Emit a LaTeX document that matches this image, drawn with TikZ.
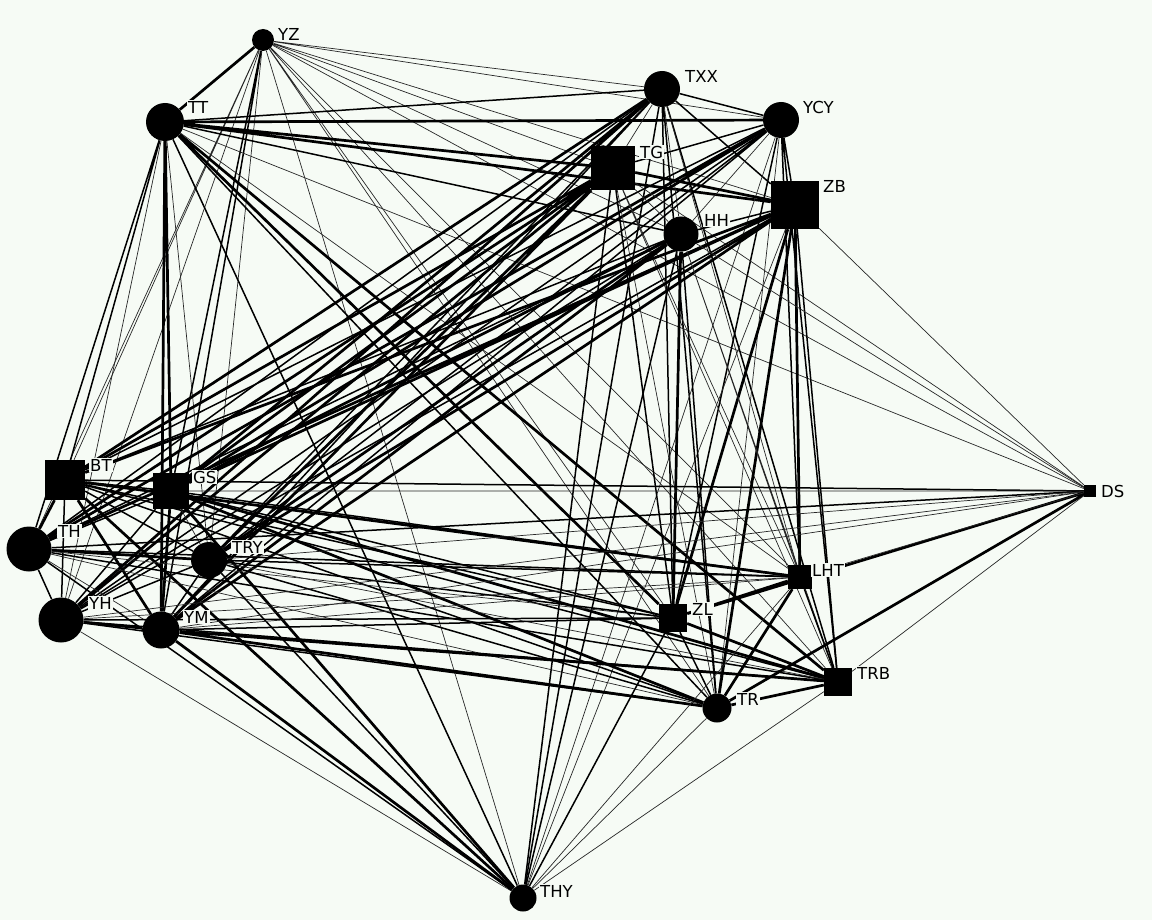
\documentclass[tikz,border=0pt]{standalone}
\usepackage{fontspec}
\setmainfont{DejaVu Sans}
\pgfdeclarelayer{back}
\pgfdeclarelayer{edges}
\pgfsetlayers{back,edges,main}
\definecolor{paper}{RGB}{246,251,245}
\tikzset{
  actor/.style={circle,fill=black,inner sep=0pt},
  group/.style={rectangle,fill=black,inner sep=0pt},
  lbl/.style={anchor=west,inner sep=1pt,fill=paper,font=\fontsize{16.5}{17}\selectfont,text=black},
  thn/.style={line width=0.7pt,black!85},
  med/.style={line width=1.5pt},
  thk/.style={line width=2.7pt},
}

\begin{document}
\begin{tikzpicture}[x=1pt,y=-1pt]
        \begin{pgfonlayer}{back}
          \fill [paper] (0,0) rectangle (1152,920);
        \end{pgfonlayer}
        \useasboundingbox (0,0) rectangle (1152,920);

        % actors
        \node [actor,minimum size=22pt] (YZ) at (263,40) {};
        \node [actor,minimum size=36pt] (TXX) at (662,89) {};
        \node [actor,minimum size=38pt] (TT) at (165,122) {};
        \node [actor,minimum size=36pt] (YCY) at (781,120) {};
        \node [group,minimum size=44pt] (TG) at (613,168) {};
        \node [group,minimum size=48pt] (ZB) at (795,205) {};
        \node [actor,minimum size=35pt] (HH) at (681,234) {};
        \node [group,minimum size=40pt] (BT) at (65,480) {};
        \node [group,minimum size=36pt] (GS) at (171,491) {};
        \node [group,minimum size=12pt] (DS) at (1090,491) {};
        \node [actor,minimum size=45pt] (TH) at (29,549) {};
        \node [actor,minimum size=36pt] (TRY) at (209,560) {};
        \node [group,minimum size=24pt] (LHT) at (800,577) {};
        \node [group,minimum size=28pt] (ZL) at (673,618) {};
        \node [actor,minimum size=45pt] (YH) at (61,620) {};
        \node [actor,minimum size=37pt] (YM) at (161,630) {};
        \node [group,minimum size=28pt] (TRB) at (838,682) {};
        \node [actor,minimum size=29pt] (TR) at (717,708) {};
        \node [actor,minimum size=27pt] (THY) at (523,898) {};

        % names
        \node [lbl] (YZ-l) at (277,34) {YZ};
        \node [lbl] (TXX-l) at (684,76) {TXX};
        \node [lbl] (TT-l) at (187,107) {TT};
        \node [lbl] (YCY-l) at (802,107) {YCY};
        \node [lbl] (TG-l) at (639,152) {TG};
        \node [lbl] (ZB-l) at (822,186) {ZB};
        \node [lbl] (HH-l) at (703,220) {HH};
        \node [lbl] (BT-l) at (89,465) {BT};
        \node [lbl] (GS-l) at (192,477) {GS};
        \node [lbl] (DS-l) at (1100,491) {DS};
        \node [lbl] (TH-l) at (57,531) {TH};
        \node [lbl] (TRY-l) at (231,547) {TRY};
        \node [lbl] (LHT-l) at (811,570) {LHT};
        \node [lbl] (ZL-l) at (691,609) {ZL};
        \node [lbl] (YH-l) at (88,603) {YH};
        \node [lbl] (YM-l) at (183,617) {YM};
        \node [lbl] (TRB-l) at (856,673) {TRB};
        \node [lbl] (TR-l) at (736,699) {TR};
        \node [lbl] (THY-l) at (539,891) {THY};

        \begin{pgfonlayer}{edges}
        % top row
        \draw [thk] (YZ) -- (TT);
        \draw [thn] (YZ) -- (TXX) (YZ) -- (YCY) (YZ) -- (TG) (YZ) -- (ZB) (YZ) -- (HH);
        \draw [thn] (YZ) -- (BT) (YZ) -- (TH) (YZ) -- (YH) (YZ) -- (TRY);
        \draw [med] (YZ) -- (GS) (YZ) -- (YM);
        \draw [thn] (YZ) -- (ZL) (YZ) -- (TR) (YZ) -- (TRB) (YZ) -- (LHT) (YZ) -- (DS) (YZ) -- (THY);

        \draw [thk] (TT) -- (YCY) (TT) -- (TG) (TT) -- (ZB) (TT) -- (GS) (TT) -- (YM) (TT) -- (ZL) (TT) -- (TRB);
        \draw [med] (TT) -- (TXX) (TT) -- (HH) (TT) -- (BT) (TT) -- (TH) (TT) -- (TR) (TT) -- (THY);
        \draw [thn] (TT) -- (YH) (TT) -- (TRY) (TT) -- (LHT) (TT) -- (DS);

        \draw [med] (TXX) -- (YCY) (TXX) -- (ZB) (TXX) -- (ZL) (TXX) -- (TR) (TXX) -- (TRB) (TXX) -- (THY);
        \draw [thn] (TXX) -- (TG) (TXX) -- (HH) (TXX) -- (LHT);
        \draw [thk] (TXX) -- (BT) (TXX) -- (GS) (TXX) -- (YH);
        \draw [med] (TXX) -- (TH) (TXX) -- (TRY) (TXX) -- (YM);

        \draw [med] (YCY) -- (ZB) (YCY) -- (TG) (YCY) -- (LHT) (YCY) -- (TRB) (YCY) -- (ZL);
        \draw [thn] (YCY) -- (HH) (YCY) -- (TR) (YCY) -- (THY);
        \draw [thk] (YCY) -- (TH) (YCY) -- (GS);
        \draw [med] (YCY) -- (BT) (YCY) -- (TRY) (YCY) -- (YH) (YCY) -- (YM);

        \draw [thk] (TG) -- (ZB) (TG) -- (BT) (TG) -- (GS) (TG) -- (TH) (TG) -- (TRY) (TG) -- (YH) (TG) -- (YM);
        \draw [thn] (TG) -- (HH) (TG) -- (TR) (TG) -- (LHT) (TG) -- (TRB) (TG) -- (DS);
        \draw [med] (TG) -- (ZL) (TG) -- (THY);

        \draw [med] (ZB) -- (HH) (ZB) -- (TRB) (ZB) -- (YH);
        \draw [thk] (ZB) -- (LHT) (ZB) -- (ZL) (ZB) -- (TR) (ZB) -- (BT) (ZB) -- (GS) (ZB) -- (TH) (ZB) -- (TRY) (ZB) -- (YM);
        \draw [thn] (ZB) -- (DS) (ZB) -- (THY);

        \draw [thk] (HH) -- (ZL) (HH) -- (GS) (HH) -- (TRY) (HH) -- (YM);
        \draw [med] (HH) -- (TR) (HH) -- (BT) (HH) -- (TH) (HH) -- (YH) (HH) -- (THY);
        \draw [thn] (HH) -- (LHT) (HH) -- (TRB) (HH) -- (DS);

        % left cluster
        \draw [thk] (BT) -- (TH) (BT) -- (YM) (BT) -- (LHT) (BT) -- (THY);
        \draw [med] (BT) -- (GS) (BT) -- (YH) (BT) -- (TRY) (BT) -- (TRB) (BT) -- (TR) (BT) -- (ZL) (BT) -- (DS);
        \draw [thk] (GS) -- (YM) (GS) -- (TRB) (GS) -- (TR) (GS) -- (THY);
        \draw [med] (GS) -- (TH) (GS) -- (YH) (GS) -- (LHT) (GS) -- (ZL);
        \draw [thn] (GS) -- (TRY) (GS) -- (DS);
        \draw [thk] (TH) -- (TRY);
        \draw [med] (TH) -- (YH) (TH) -- (LHT) (TH) -- (TRB) (TH) -- (DS) (TH) -- (THY);
        \draw [thn] (TH) -- (YM) (TH) -- (ZL) (TH) -- (TR);
        \draw [med] (TRY) -- (YH) (TRY) -- (YM) (TRY) -- (LHT) (TRY) -- (ZL) (TRY) -- (TR) (TRY) -- (THY);
        \draw [thn] (TRY) -- (TRB) (TRY) -- (DS);
        \draw [thk] (YH) -- (YM);
        \draw [med] (YH) -- (ZL) (YH) -- (TRB) (YH) -- (TR);
        \draw [thn] (YH) -- (LHT) (YH) -- (DS) (YH) -- (THY);
        \draw [thk] (YM) -- (TRB) (YM) -- (TR) (YM) -- (THY);
        \draw [med] (YM) -- (ZL);
        \draw [thn] (YM) -- (LHT) (YM) -- (DS);

        % right cluster
        \draw [thk] (LHT) -- (ZL) (LHT) -- (TR) (ZL) -- (TRB) (TRB) -- (TR) (ZL) -- (DS) (TR) -- (DS);
        \draw [med] (LHT) -- (TRB) (ZL) -- (TR) (ZL) -- (THY);
        \draw [thn] (LHT) -- (DS) (TRB) -- (DS) (LHT) -- (THY) (TRB) -- (THY) (TR) -- (THY);
        \end{pgfonlayer}
    \end{tikzpicture}
\end{document}
